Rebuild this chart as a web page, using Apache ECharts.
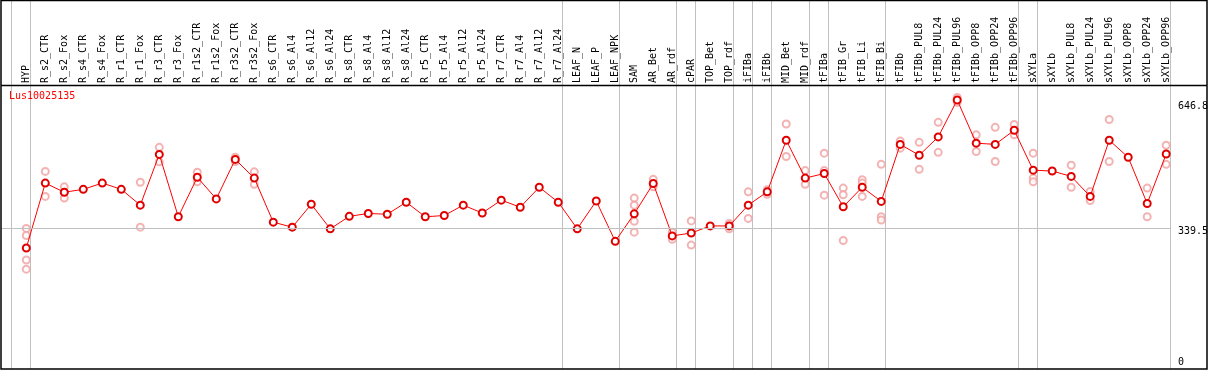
<!DOCTYPE html>
<html>
<head>
<meta charset="utf-8">
<script src="https://cdn.jsdelivr.net/npm/echarts@6/dist/echarts.min.js"></script>
<style>
html,body{margin:0;padding:0;background:#fff;}
#c{width:1209px;height:370px;}
</style>
</head>
<body>
<div id="c"></div>
<script>
const title = 'Lus10025135';
const categories = ['HYP','R_s2_CTR','R_s2_Fox','R_s4_CTR','R_s4_Fox','R_r1_CTR','R_r1_Fox','R_r3_CTR','R_r3_Fox','R_r1s2_CTR','R_r1s2_Fox','R_r3s2_CTR','R_r3s2_Fox','R_s6_CTR','R_s6_Al4','R_s6_Al12','R_s6_Al24','R_s8_CTR','R_s8_Al4','R_s8_Al12','R_s8_Al24','R_r5_CTR','R_r5_Al4','R_r5_Al12','R_r5_Al24','R_r7_CTR','R_r7_Al4','R_r7_Al12','R_r7_Al24','LEAF_N','LEAF_P','LEAF_NPK','SAM','AR_Bet','AR_rdf','cPAR','TOP_Bet','TOP_rdf','iFIBa','iFIBb','MID_Bet','MID_rdf','tFIBa','tFIB_Gr','tFIB_Li','tFIB_Bi','tFIBb','tFIBb_PUL8','tFIBb_PUL24','tFIBb_PUL96','tFIBb_OPP8','tFIBb_OPP24','tFIBb_OPP96','sXYLa','sXYLb','sXYLb_PUL8','sXYLb_PUL24','sXYLb_PUL96','sXYLb_OPP8','sXYLb_OPP24','sXYLb_OPP96'];
const means = [291,447,425,432,447,432,394,516,366,461,409,504,459,353,341,396,337,367,374,372,401,366,369,394,375,406,389,437,401,337,404,307,373,446,320,327,344,344,394,426,550,459,470,390,437,403,540,514,558,646.8,543,540,574,478,476,463,415,550,509,398,517];
const replicates = {
  0:[338,321,262,240], 1:[475,415], 2:[438,425,411], 6:[449,341], 7:[533,498],
  9:[473,450], 11:[509,499], 12:[474,444], 32:[411,394,355,329], 33:[456,438],
  34:[329,312], 35:[356,298], 37:[350,337], 38:[426,362], 39:[431,420],
  40:[589,511], 41:[477,444], 42:[519,477,418], 43:[435,419,309], 44:[455,447,415],
  45:[492,366,358], 46:[548,531], 47:[545,480], 48:[593,521], 49:[653,641],
  50:[563,523], 51:[581,499], 52:[588,563], 53:[519,459,450], 55:[490,437],
  56:[427,405], 57:[600,499], 59:[435,366], 60:[538,492]
};
const groupEnds = [-1,0,28,31,34,35,37,38,39,41,42,45,52,53,60];
const yTicks = [0,339.5,646.8];
const refLine = 339.5;

const FONT = 'DejaVu Sans Mono';
const chart = echarts.init(document.getElementById('c'), null, {renderer:'canvas'});

const meanData = means.map((v,i)=>[i,v]);
const repData = [];
Object.keys(replicates).forEach(k=>{ replicates[k].forEach(v=>repData.push([+k,v])); });

chart.setOption({
  animation:false,
  grid:{left:1.6, right:39, top:0, bottom:1, containLabel:false},
  xAxis:{
    type:'value', position:'top', offset:-85, min:-1.3, max:60.2,
    axisLine:{show:false}, axisTick:{show:false}, splitLine:{show:false},
    axisLabel:{
      customValues: categories.map((_,i)=>i),
      formatter: v => categories[Math.round(v)],
      rotate:90, margin:2, fontFamily:FONT, fontSize:10, color:'#000'
    }
  },
  yAxis:{type:'value', min:0, max:887.2, show:false},
  series:[
    {
      type:'scatter', data:repData, symbol:'emptyCircle', symbolSize:7,
      itemStyle:{color:'#f0a0a0', borderColor:'#f0a0a0', borderWidth:1.2},
      z:2, silent:true
    },
    {
      type:'line', data:meanData, symbol:'emptyCircle', symbolSize:7,
      lineStyle:{color:'#ff0000', width:1},
      itemStyle:{color:'#e00000', borderColor:'#e00000', borderWidth:1.5},
      z:3, silent:true,
      markLine:{
        silent:true, symbol:'none', animation:false,
        lineStyle:{color:'#c0c0c0', width:1, type:'solid'},
        label:{show:false},
        data: [{yAxis:refLine}]
      }
    }
  ]
});

const g = [];
groupEnds.forEach(e=>{
  const px = Math.round(chart.convertToPixel({xAxisIndex:0}, e + 0.22)) + 0.5;
  g.push({type:'line', shape:{x1:px, y1:0, x2:px, y2:369}, style:{stroke:'#c0c0c0', lineWidth:1}, z:-1, silent:true});
});
g.push({type:'rect', shape:{x:1, y:0.5, width:1206, height:368.5}, style:{fill:'none', stroke:'#000', lineWidth:1.5}, z:100});
g.push({type:'line', shape:{x1:1, y1:85.5, x2:1207, y2:85.5}, style:{stroke:'#000', lineWidth:1.5}, z:100});
g.push({type:'text', left:9, top:91, style:{text:title, fill:'#ff0000', font:'10px "'+FONT+'"'}, z:100});
const yOff = [{va:'bottom', d:-2}, {va:'top', d:-1.5}, {va:'top', d:1.5}];
yTicks.forEach((t,k)=>{
  const py = chart.convertToPixel({yAxisIndex:0}, t);
  g.push({type:'text', x:1178, y:py + yOff[k].d, style:{text:String(t), fill:'#000', font:'10px "'+FONT+'"', verticalAlign:yOff[k].va}, z:100});
});
chart.setOption({graphic:g});
</script>
</body>
</html>
